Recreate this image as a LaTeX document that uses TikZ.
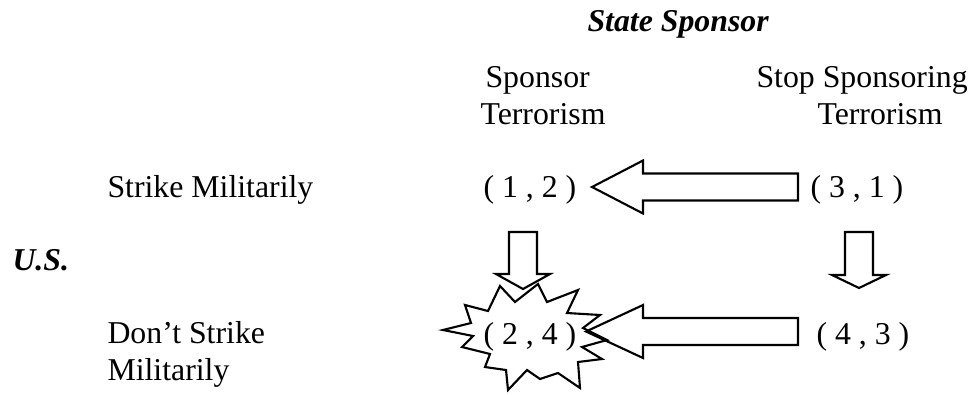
\documentclass[tikz,border=0pt]{standalone}
\usepackage{fontspec}
\setmainfont{LiberationSerif}[Extension=.ttf, UprightFont=*-Regular, BoldFont=*-Bold,
  ItalicFont=*-Italic, BoldItalicFont=*-BoldItalic]
\usetikzlibrary{calc}

\tikzset{
  txt/.style={anchor=base west, inner sep=0pt, font=\fontsize{12}{14.4}\selectfont},
  head/.style={txt, font=\fontsize{12}{14.4}\selectfont\bfseries\itshape},
  block/.style={line width=0.8pt, line join=miter}
}

\begin{document}
\begin{tikzpicture}[x=0.3774pt, y=0.3774pt]
\useasboundingbox (0,0) rectangle (973,394);

% players and strategies
\node[head] (sp) at (587,362) {State Sponsor};
\node[head] (us) at (12,124) {U.S.};
\node[txt] (c1a) at (485,307) {Sponsor};
\node[txt] (c1b) at (480,270) {Terrorism};
\node[txt] (c2a) at (756,307) {Stop Sponsoring};
\node[txt] (c2b) at (817,270) {Terrorism};
\node[txt] (r1) at (107,197) {Strike Militarily};
\node[txt] (r2a) at (107,51) {Don’t Strike};
\node[txt] (r2b) at (107,14) {Militarily};

% payoffs
\node[txt] (p12) at (483,197) {( 1 , 2 )};
\node[txt] (p31) at (810,197) {( 3 , 1 )};
\node[txt] (p24) at (483,50) {( 2 , 4 )};
\node[txt] (p43) at (816,50) {( 4 , 3 )};

% ends of the block arrows
\coordinate (t1) at (798,207);   \coordinate (h1) at (592,207);
\coordinate (t2) at (798,62.5);  \coordinate (h2) at (586,62.5);
\coordinate (t3) at (523,162);   \coordinate (h3) at (523,105);
\coordinate (t4) at (859,162);   \coordinate (h4) at (859,106);

% equilibrium burst
\draw[block] (443,64) -- (471,71) -- (465,89) -- (488,83) -- (500,108) -- (515,92)
  -- (538,110) -- (547,92) -- (578,104) -- (567,81) -- (600,79) -- (583,66)
  -- (607,54) -- (582,47) -- (602,35) -- (578,32) -- (580,6) -- (558,21)
  -- (540,15) -- (527,24) -- (508,4) -- (506,24) -- (485,27) -- (490,40)
  -- (462,47) -- (473,58) -- cycle;

% arrows to the left
\foreach \t/\h/\l in {t1/h1/51, t2/h2/57}
{	\draw[block] ($(\t)+(0,13.5)$) -- ($(\h)+(\l,13.5)$) -- ($(\h)+(\l,26.5)$) -- (\h)
	  -- ($(\h)+(\l,-26.5)$) -- ($(\h)+(\l,-13.5)$) -- ($(\t)+(0,-13.5)$) -- cycle;
}
% arrows down
\foreach \t/\h/\l in {t3/h3/15, t4/h4/13}
{	\draw[block] ($(\t)+(-14,0)$) -- ($(\h)+(-14,\l)$) -- ($(\h)+(-27,\l)$) -- (\h)
	  -- ($(\h)+(27,\l)$) -- ($(\h)+(14,\l)$) -- ($(\t)+(14,0)$) -- cycle;
}
\end{tikzpicture}
\end{document}
